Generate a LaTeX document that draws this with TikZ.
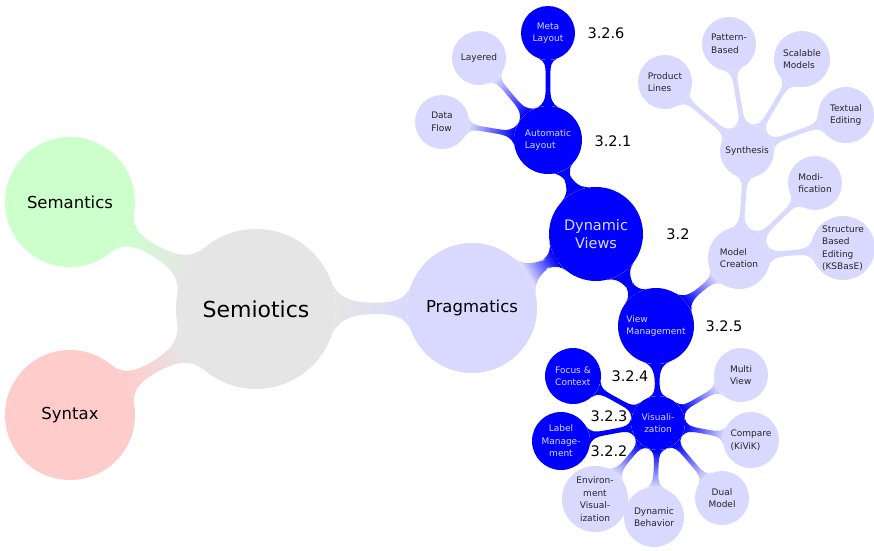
\documentclass[tikz,border=0pt]{standalone}
\usepackage{fontspec}
\setmainfont{DejaVu Sans}
\usetikzlibrary{mindmap,backgrounds}
\colorlet{cgray}{black!10}
\colorlet{cgreen}{green!20}
\colorlet{cred}{red!20}
\colorlet{clight}{blue!15}
\colorlet{cdark}{blue}
\tikzset{
  cn/.style={circle,inner sep=0pt,minimum size=#1},
  lightnode/.style={cn=#1,fill=clight,text=black!85,font=\fontsize{9}{12.5}\selectfont},
  darknode/.style={cn=#1,fill=cdark,text=clight,font=\fontsize{9}{12.5}\selectfont},
  numlabel/.style={font=\fontsize{14.5}{17}\selectfont,text=black},
}
\begin{document}
\begin{tikzpicture}[x=1pt,y=-1pt]
\useasboundingbox (0,0) rectangle (874,550);
% main nodes
\node[cn=160,fill=cgray,font=\fontsize{22}{26}\selectfont] (semiotics) at (256,309) {Semiotics};
\node[cn=130,fill=cgreen,font=\fontsize{16.5}{20}\selectfont] (semantics) at (70,202) {Semantics};
\node[cn=130,fill=cred,font=\fontsize{16.5}{20}\selectfont] (syntax) at (70,415) {Syntax};
\node[cn=130,fill=clight,font=\fontsize{16.5}{20}\selectfont] (pragmatics) at (472,308) {Pragmatics};
\node[cn=94,fill=cdark,text=clight,font=\fontsize{14.5}{18}\selectfont,align=center] (dynviews) at (596,234) {Dynamic\\Views};
% automatic layout branch
\node[darknode=68,align=left] (autolayout) at (548,140) {Automatic\\Layout};
\node[darknode=54,align=center] (metalayout) at (548,33) {Meta\\Layout};
\node[lightnode=54] (layered) at (479,58) {Layered};
\node[lightnode=54,align=left] (dataflow) at (442,122) {Data\\Flow};
% view management branch
\node[darknode=76,align=left] (viewmgmt) at (656,326) {View\\Management};
\node[lightnode=62,align=left] (modelcreation) at (739,258) {Model\\Creation};
\node[lightnode=54] (synthesis) at (747,151) {Synthesis};
\node[lightnode=54,align=left] (productlines) at (665,82) {Product\\Lines};
\node[lightnode=54,align=left] (patternbased) at (729,44) {Pattern-\\Based};
\node[lightnode=56,align=left] (scalable) at (802,59) {Scalable\\Models};
\node[lightnode=56,align=left] (textual) at (846,115) {Textual\\Editing};
\node[lightnode=54,align=left] (modification) at (815,183) {Modi-\\fication};
\node[lightnode=64,align=left] (structure) at (843,248) {Structure\\Based\\Editing\\(KSBasE)};
% visualization branch
\node[darknode=54,align=center] (visualization) at (658,423) {Visuali-\\zation};
\node[darknode=56,align=left] (focus) at (573,376) {Focus \&\\Context};
\node[darknode=58,align=center] (labelmgmt) at (561,441) {Label\\Manage-\\ment};
\node[lightnode=66,align=center] (envvis) at (595,499) {Environ-\\ment\\Visual-\\ization};
\node[lightnode=60,align=left] (dynbehavior) at (654,517) {Dynamic\\Behavior};
\node[lightnode=54,align=center] (dualmodel) at (722,498) {Dual\\Model};
\node[lightnode=56,align=left] (compare) at (751,440) {Compare\\(KiViK)};
\node[lightnode=54,align=left] (multiview) at (741,375) {Multi\\View};
% labels
\node[numlabel] (l326) at (606,33) {3.2.6};
\node[numlabel] (l321) at (613,141) {3.2.1};
\node[numlabel] (l32) at (678,234) {3.2};
\node[numlabel] (l325) at (724,326) {3.2.5};
\node[numlabel] (l324) at (630,376) {3.2.4};
\node[numlabel] (l323) at (609,416) {3.2.3};
\node[numlabel] (l322) at (609,451) {3.2.2};
% connections
\begin{scope}[on background layer,mindmap]
\path[line width=12pt] (semiotics) to[circle connection bar switch color=from (cgray) to (cgreen)] (semantics);
\path[line width=12pt] (semiotics) to[circle connection bar switch color=from (cgray) to (cred)] (syntax);
\path[line width=12pt] (semiotics) to[circle connection bar switch color=from (cgray) to (clight)] (pragmatics);
\path[line width=10pt] (pragmatics) to[circle connection bar switch color=from (clight) to (cdark)] (dynviews);
\path[line width=7pt] (dynviews) to[circle connection bar switch color=from (cdark) to (cdark)] (autolayout);
\path[line width=7pt] (dynviews) to[circle connection bar switch color=from (cdark) to (cdark)] (viewmgmt);
\path[line width=5pt] (autolayout) to[circle connection bar switch color=from (cdark) to (cdark)] (metalayout);
\path[line width=5pt] (autolayout) to[circle connection bar switch color=from (cdark) to (clight)] (layered);
\path[line width=5pt] (autolayout) to[circle connection bar switch color=from (cdark) to (clight)] (dataflow);
\path[line width=6pt] (viewmgmt) to[circle connection bar switch color=from (cdark) to (clight)] (modelcreation);
\path[line width=6pt] (viewmgmt) to[circle connection bar switch color=from (cdark) to (cdark)] (visualization);
\path[line width=5pt] (modelcreation) to[circle connection bar switch color=from (clight) to (clight)] (synthesis);
\path[line width=5pt] (modelcreation) to[circle connection bar switch color=from (clight) to (clight)] (modification);
\path[line width=5pt] (modelcreation) to[circle connection bar switch color=from (clight) to (clight)] (structure);
\path[line width=5pt] (synthesis) to[circle connection bar switch color=from (clight) to (clight)] (productlines);
\path[line width=5pt] (synthesis) to[circle connection bar switch color=from (clight) to (clight)] (patternbased);
\path[line width=5pt] (synthesis) to[circle connection bar switch color=from (clight) to (clight)] (scalable);
\path[line width=5pt] (synthesis) to[circle connection bar switch color=from (clight) to (clight)] (textual);
\path[line width=5pt] (visualization) to[circle connection bar switch color=from (cdark) to (cdark)] (focus);
\path[line width=5pt] (visualization) to[circle connection bar switch color=from (cdark) to (cdark)] (labelmgmt);
\path[line width=5pt] (visualization) to[circle connection bar switch color=from (cdark) to (clight)] (envvis);
\path[line width=5pt] (visualization) to[circle connection bar switch color=from (cdark) to (clight)] (dynbehavior);
\path[line width=5pt] (visualization) to[circle connection bar switch color=from (cdark) to (clight)] (dualmodel);
\path[line width=5pt] (visualization) to[circle connection bar switch color=from (cdark) to (clight)] (compare);
\path[line width=5pt] (visualization) to[circle connection bar switch color=from (cdark) to (clight)] (multiview);
\end{scope}
\end{tikzpicture}
\end{document}
